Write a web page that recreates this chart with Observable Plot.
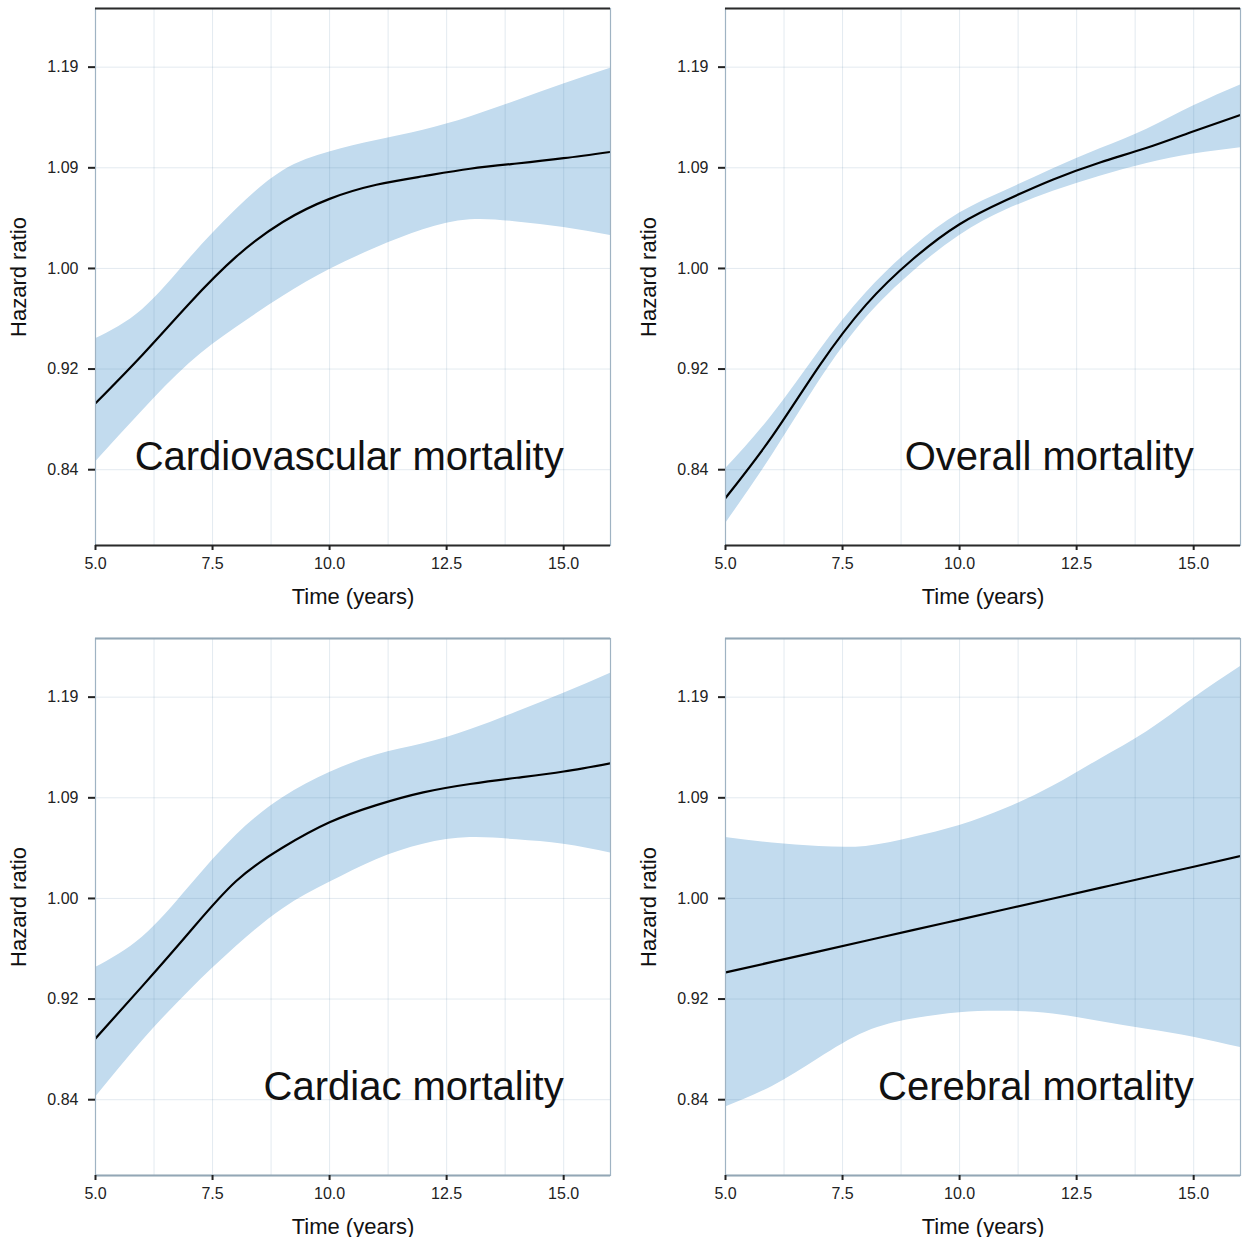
<!DOCTYPE html>
<html><head><meta charset="utf-8">
<script src="https://cdn.jsdelivr.net/npm/d3@7"></script>
<script src="https://cdn.jsdelivr.net/npm/@observablehq/plot@0.6"></script>
<style>
html,body{margin:0;padding:0;background:#fff;}
body{width:1242px;height:1237px;position:relative;overflow:hidden;font-family:"Liberation Sans",Arial,sans-serif;}
.panel{position:absolute;width:621px;height:620px;}
.panel svg{max-width:none !important;}
</style></head><body>
<div id="p0" class="panel" style="left:0;top:0"></div>
<div id="p1" class="panel" style="left:630px;top:0"></div>
<div id="p2" class="panel" style="left:0;top:630px"></div>
<div id="p3" class="panel" style="left:630px;top:630px"></div>
<script>
// Time in years
const years = [5, 6, 7, 8, 9, 10, 11, 12, 13, 14, 15, 16];

// Cardiovascular mortality
const cvHR = [0.890, 0.928, 0.970, 1.010, 1.041, 1.062, 1.075, 1.083, 1.090, 1.095, 1.100, 1.106];
const cvLo = [0.846, 0.884, 0.921, 0.950, 0.976, 0.999, 1.018, 1.034, 1.043, 1.041, 1.036, 1.029];
const cvHi = [0.941, 0.965, 1.008, 1.052, 1.088, 1.106, 1.117, 1.127, 1.140, 1.156, 1.173, 1.189];

// Overall mortality
const ovHR = [0.820, 0.865, 0.919, 0.969, 1.008, 1.039, 1.061, 1.080, 1.096, 1.110, 1.126, 1.142];
const ovLo = [0.802, 0.851, 0.907, 0.958, 0.997, 1.029, 1.052, 1.069, 1.083, 1.095, 1.104, 1.110];
const ovHi = [0.841, 0.881, 0.931, 0.979, 1.018, 1.049, 1.070, 1.090, 1.109, 1.128, 1.151, 1.172];

// Cardiac mortality
const cdHR = [0.886, 0.927, 0.971, 1.015, 1.045, 1.068, 1.084, 1.096, 1.104, 1.110, 1.116, 1.124];
const cdLo = [0.842, 0.884, 0.923, 0.959, 0.991, 1.014, 1.034, 1.048, 1.054, 1.052, 1.048, 1.040];
const cdHi = [0.942, 0.967, 1.010, 1.056, 1.091, 1.115, 1.132, 1.143, 1.157, 1.175, 1.194, 1.215];

// Cerebral mortality
const cbHR = [0.9380, 0.9466, 0.9553, 0.9641, 0.9730, 0.9819, 0.9909, 1.0000, 1.0092, 1.0185, 1.0278, 1.0373];
const cbLo = [0.835, 0.850, 0.871, 0.891, 0.901, 0.906, 0.907, 0.905, 0.899, 0.893, 0.887, 0.879];
const cbHi = [1.054, 1.049, 1.046, 1.046, 1.054, 1.065, 1.081, 1.102, 1.128, 1.155, 1.189, 1.222];

// Axes
const xTicks = [5.0, 7.5, 10.0, 12.5, 15.0];
const xGrid = [6.25, 7.5, 8.75, 10.0, 11.25, 12.5, 13.75, 15.0];
const yTicks = [0.8403, 0.9167, 1.0, 1.0909, 1.1901];   // labelled 0.84, 0.92, 1.00, 1.09, 1.19
const xDomain = [5, 16];
const yDomain = [0.787, 1.252];
const panelTitles = ["Cardiovascular mortality", "Overall mortality", "Cardiac mortality", "Cerebral mortality"];
const titleAt = [{t: 15, hr: 0.84}];

function panel(title, hr, lo, hi, topRow) {
  const data = years.map((t, i) => ({t, hr: hr[i], lo: lo[i], hi: hi[i]}));
  const edge = topRow ? "#2a2a2a" : "#93a7b6";
  return Plot.plot({
    width: 621, height: 620,
    marginLeft: 95, marginRight: 11, marginTop: 8, marginBottom: 75,
    style: {fontFamily: "'Liberation Sans', Arial, sans-serif", fontSize: "16px", color: "#222", background: "transparent", maxWidth: "none"},
    x: {domain: xDomain},
    y: {type: "log", domain: yDomain},
    marks: [
      Plot.areaY(data, {x: "t", y1: "lo", y2: "hi", fill: "#c2dbee", curve: "natural", clip: true}),
      Plot.ruleX(xGrid, {stroke: "#4f7aa0", strokeOpacity: 0.16}),
      Plot.ruleY(yTicks, {stroke: "#4f7aa0", strokeOpacity: 0.16}),
      Plot.line(data, {x: "t", y: "hr", stroke: "#000", strokeWidth: 2.2, curve: "natural", clip: true}),
      Plot.frame({stroke: "#9fb3c3", strokeWidth: 1.2}),
      Plot.ruleY([yDomain[1]], {stroke: edge, strokeWidth: 2}),
      Plot.ruleY([yDomain[0]], {stroke: edge, strokeWidth: 2}),
      Plot.axisX({ticks: xTicks, tickFormat: ".1f", tickSize: 5, tickPadding: 7, strokeWidth: 2, fontSize: 16, label: null}),
      Plot.axisY({ticks: yTicks, tickFormat: ".2f", tickSize: 7, tickPadding: 10, strokeWidth: 2, fontSize: 16, label: null}),
      Plot.text(["Time (years)"], {frameAnchor: "bottom", dy: 58, textAnchor: "middle", lineAnchor: "bottom", fontSize: 22, fill: "#111"}),
      Plot.text(["Hazard ratio"], {frameAnchor: "left", dx: -70, rotate: -90, textAnchor: "middle", lineAnchor: "bottom", fontSize: 22, fill: "#111"}),
      Plot.text(titleAt, {x: "t", y: "hr", text: () => title, textAnchor: "end", lineAnchor: "bottom", fontSize: 40, fill: "#111"})
    ]
  });
}

document.getElementById("p0").append(panel(panelTitles[0], cvHR, cvLo, cvHi, true));
document.getElementById("p1").append(panel(panelTitles[1], ovHR, ovLo, ovHi, true));
document.getElementById("p2").append(panel(panelTitles[2], cdHR, cdLo, cdHi, false));
document.getElementById("p3").append(panel(panelTitles[3], cbHR, cbLo, cbHi, false));
</script>
</body></html>
